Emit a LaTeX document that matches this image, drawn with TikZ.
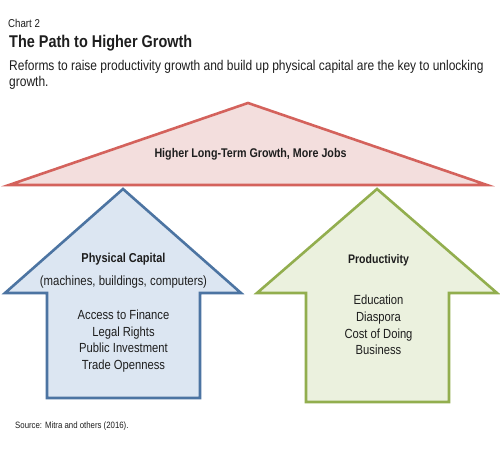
\documentclass[tikz,border=0pt]{standalone}
\usepackage{fontspec}
\setmainfont{Liberation Sans}[FakeStretch=0.85]
\definecolor{tri}{RGB}{212,98,92}
\definecolor{trifill}{RGB}{243,222,221}
\definecolor{blu}{RGB}{76,116,162}
\definecolor{blufill}{RGB}{220,230,242}
\definecolor{grn}{RGB}{146,174,78}
\definecolor{grnfill}{RGB}{235,241,222}
\definecolor{txt}{RGB}{30,30,30}
\begin{document}
\begin{tikzpicture}[x=1pt,y=-1pt,
  lbl/.style={inner sep=0pt,text=txt,align=center},
  shp/.style={line width=2.6pt,line join=miter}]
\useasboundingbox (0,0) rectangle (500,449);
\fill[white] (0,0) rectangle (500,449);
% texts
\node[lbl,anchor=base west,font={\fontsize{11.4}{13}\selectfont}] (chart) at (8,28) {Chart 2};
\node[lbl,anchor=base west,font={\fontsize{17}{19}\selectfont\bfseries}] (title) at (9,47.7) {The Path to Higher Growth};
\node[lbl,anchor=base west,font={\fontsize{14.1}{17}\selectfont}] (sub1) at (9,71) {Reforms to raise productivity growth and build up physical capital are the key to unlocking};
\node[lbl,anchor=base west,font={\fontsize{14.1}{17}\selectfont}] (sub2) at (9,86.5) {growth.};
% triangle
\draw[shp,draw=tri,fill=trifill] (248,103) -- (487,185) -- (9,185) -- cycle;
\node[lbl,font={\fontsize{12.6}{15}\selectfont\bfseries}] (top) at (250.5,154) {Higher Long-Term Growth, More Jobs};
% blue arrow
\draw[shp,draw=blu,fill=blufill] (123,189) -- (241,293) -- (200,293) -- (200,398) -- (47,398) -- (47,293) -- (5,293) -- cycle;
\node[lbl,font={\fontsize{12.9}{15}\selectfont\bfseries}] (pc) at (123.5,259) {Physical Capital};
\node[lbl,font={\fontsize{13.4}{15}\selectfont}] (pcsub) at (123.5,282) {(machines, buildings, computers)};
\node[lbl,font={\fontsize{13.2}{16.7}\selectfont}] (pclist) at (123.5,341) {Access to Finance\\Legal Rights\\Public Investment\\Trade Openness};
% green arrow
\draw[shp,draw=grn,fill=grnfill] (377,189) -- (497,293) -- (449,293) -- (449,402) -- (306,402) -- (306,293) -- (257,293) -- cycle;
\node[lbl,font={\fontsize{12.4}{15}\selectfont\bfseries}] (pr) at (378.5,260) {Productivity};
\node[lbl,font={\fontsize{13.2}{16.7}\selectfont}] (prlist) at (378.5,325) {Education\\Diaspora\\Cost of Doing\\Business};
% source
\node[lbl,anchor=base west,font={\fontsize{9.2}{11}\selectfont}] (src) at (15,428) {Source: Mitra and others (2016).};
\end{tikzpicture}
\end{document}
